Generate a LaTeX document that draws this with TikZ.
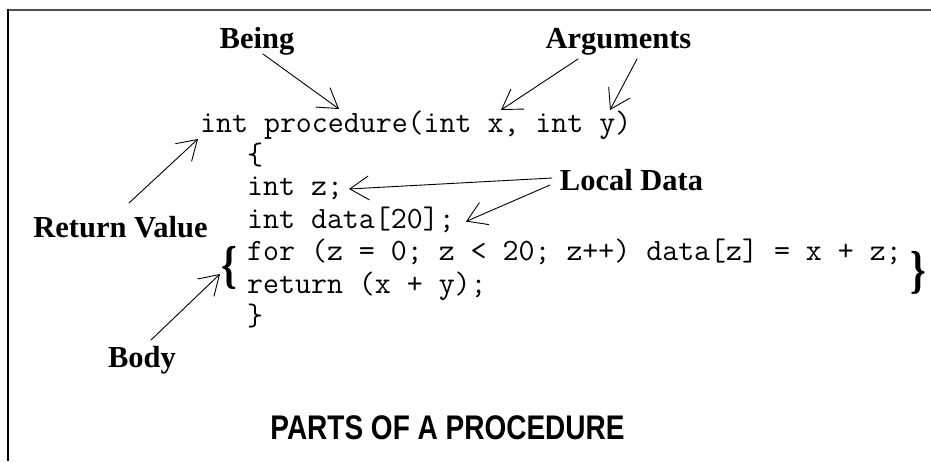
\documentclass[tikz,border=0pt]{standalone}
\usepackage{fontspec}
\setmainfont{Liberation Serif}
\newfontfamily\titlefont{Liberation Sans}
\usetikzlibrary{arrows.meta}
\begin{document}
\begin{tikzpicture}[x=1pt,y=-1pt,
  codeline/.style={anchor=base west,inner sep=0pt,font=\ttfamily\fontsize{31}{33}\selectfont},
  lbl/.style={anchor=base,inner sep=0pt,font=\bfseries\fontsize{30.5}{32}\selectfont},
  brace/.style={anchor=center,inner sep=0pt,font=\bfseries\fontsize{40}{44}\selectfont},
  arr/.style={-{Straight Barb[length=19pt,width=24pt]},line width=0.9pt,line cap=round}]
\useasboundingbox (0,0) rectangle (931,461);
% frame
\draw[line width=1.8pt,color={rgb,255:red,80;green,80;blue,80}] (8,9.8) -- (931,9.8);
\draw[line width=1.4pt] (8,9) -- (8,461);
% code
\node[codeline] (l1) at (200,132) {int procedure(int x, int y)};
\node[codeline] (l2) at (247,164) {\{};
\node[codeline] (l3) at (247,195) {int z;};
\node[codeline] (l4) at (247,228) {int data[20];};
\node[codeline] (l5) at (247,260) {for (z = 0; z < 20; z++) data[z] = x + z;};
\node[codeline] (l6) at (247,293) {return (x + y);};
\node[codeline] (l7) at (247,325) {\}};
% big braces
\node[brace] (bl) at (229.5,267.5) {\scalebox{1}[1.3]{\{}};
\node[brace] (br) at (918.5,272.5) {\scalebox{1}[1.3]{\}}};
% labels
\node[lbl] (being) at (257,48) {Being};
\node[lbl] (args) at (618.5,48) {Arguments};
\node[lbl] (local) at (631.5,190) {Local Data};
\node[lbl] (ret) at (120.5,237) {Return Value};
\node[lbl] (body) at (142,367) {Body};
\node[anchor=base,inner sep=0pt,font=\titlefont\bfseries\fontsize{28}{30}\selectfont] (title) at (447.5,439.5) {\scalebox{1}[1.22]{PARTS OF A PROCEDURE}};
% arrow end points
\coordinate (beingS) at (263,54);   \coordinate (beingT) at (339,109);
\coordinate (argS1) at (578,59);    \coordinate (argT1) at (501,110);
\coordinate (argS2) at (637,59);    \coordinate (argT2) at (610,110);
\coordinate (retS) at (129,203);    \coordinate (retT) at (198,139);
\coordinate (locS1) at (552,178);   \coordinate (locT1) at (349,189);
\coordinate (locS2) at (550,185);   \coordinate (locT2) at (466,221.5);
\coordinate (bodyS) at (151,340);   \coordinate (bodyT) at (220,274);
\draw[arr] (beingS) -- (beingT);
\draw[arr] (argS1) -- (argT1);
\draw[arr] (argS2) -- (argT2);
\draw[arr] (retS) -- (retT);
\draw[arr] (locS1) -- (locT1);
\draw[arr] (locS2) -- (locT2);
\draw[arr] (bodyS) -- (bodyT);
\end{tikzpicture}
\end{document}
